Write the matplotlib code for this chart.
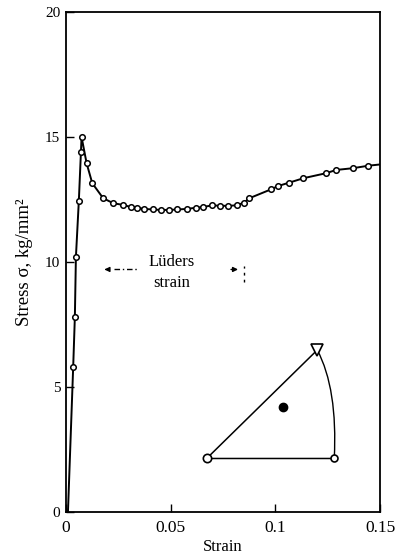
import numpy as np
import matplotlib
matplotlib.use('Agg')
import matplotlib.pyplot as plt
from matplotlib.path import Path
from matplotlib.patches import PathPatch

plt.rcParams['font.family'] = ['Liberation Serif', 'DejaVu Serif']

# stress-strain curve read point by point
strain = [0.0035, 0.0043, 0.0048, 0.0062, 0.0072, 0.0075, 0.0099, 0.0126, 0.0178,
          0.0226, 0.0274, 0.0309, 0.0341, 0.0374, 0.0414, 0.0453, 0.0494, 0.0532,
          0.0577, 0.0621, 0.0656, 0.0696, 0.0736, 0.0775, 0.0816, 0.0850, 0.0876,
          0.0978, 0.1014, 0.1065, 0.1134, 0.1242, 0.1290, 0.1370, 0.1444]
stress = [5.8, 7.8, 10.2, 12.45, 14.4, 15.0, 13.95, 13.15, 12.55,
          12.35, 12.28, 12.2, 12.17, 12.12, 12.1, 12.08, 12.08, 12.1,
          12.12, 12.17, 12.2, 12.26, 12.25, 12.24, 12.27, 12.37, 12.55,
          12.9, 13.04, 13.17, 13.35, 13.55, 13.68, 13.75, 13.85]
line_start = (0.001, 0.0)
line_end = (0.15, 13.9)

# Lueders band extent and label
luders_left = 0.0171
luders_right = 0.0835
luders_y = 9.7

# stereographic triangle (axes fraction): corner 001, 011, 111, arc midpoint, orientation
tri_001 = (0.448, 0.107)
tri_011 = (0.854, 0.107)
tri_111 = (0.800, 0.324)
arc_mid = (0.846, 0.231)
orient = (0.690, 0.209)

fig = plt.figure(figsize=(4.04, 5.55), dpi=100)
ax = fig.add_axes([0.163, 0.0775, 0.778, 0.901])

xs = [line_start[0]] + strain + [line_end[0]]
ys = [line_start[1]] + stress + [line_end[1]]
ax.plot(xs, ys, color='black', lw=1.4, zorder=2)
ax.plot(strain, stress, 'o', ms=4, mfc='white', mec='black', mew=1.1, zorder=3)

ax.set_xlim(0, 0.15)
ax.set_ylim(0, 20)
ax.set_xticks([0, 0.05, 0.1, 0.15])
ax.set_xticklabels(['0', '0.05', '0.1', '0.15'])
ax.set_yticks([0, 5, 10, 15, 20])
ax.tick_params(direction='in', length=6, width=1, labelsize=11, pad=4)
ax.tick_params(axis='x', labelsize=12.5, pad=6)
for s in ax.spines.values():
    s.set_linewidth(1.3)

ax.set_xlabel('Strain', fontsize=12, labelpad=2)
ax.set_ylabel('Stress σ, kg/mm²', fontsize=13.5, labelpad=9)

# Lueders strain marker
ax.text(0.0505, 10.0, 'Lüders', ha='center', va='center', fontsize=12)
ax.text(0.0505, 9.15, 'strain', ha='center', va='center', fontsize=12)
ax.annotate('', xy=(luders_left, luders_y), xytext=(luders_left + 0.004, luders_y),
            arrowprops=dict(arrowstyle='-|>', color='black', lw=1, mutation_scale=7))
ax.plot([luders_left + 0.006, 0.034], [luders_y, luders_y], color='black', lw=1, ls=(0, (4, 2, 1, 2)))
ax.annotate('', xy=(luders_right, luders_y), xytext=(luders_right - 0.006, luders_y),
            arrowprops=dict(arrowstyle='-|>', color='black', lw=1, mutation_scale=7))
ax.plot([0.0852, 0.0852], [9.2, 9.85], color='black', lw=1, ls=(0, (2, 3)))

# inset orientation triangle
tr = ax.transAxes
ax.plot([tri_111[0], tri_001[0], tri_011[0]], [tri_111[1], tri_001[1], tri_011[1]],
        color='black', lw=1.1, transform=tr)
ctrl = (2 * arc_mid[0] - 0.5 * (tri_111[0] + tri_011[0]),
        2 * arc_mid[1] - 0.5 * (tri_111[1] + tri_011[1]))
arc = Path([tri_111, ctrl, tri_011], [Path.MOVETO, Path.CURVE3, Path.CURVE3])
ax.add_patch(PathPatch(arc, fc='none', ec='black', lw=1.0, transform=tr))
ax.plot(*tri_001, 'o', ms=6, mfc='white', mec='black', mew=1.2, transform=tr)
ax.plot(*tri_011, 'o', ms=5, mfc='white', mec='black', mew=1.2, transform=tr)
ax.plot(*tri_111, 'v', ms=8, mfc='white', mec='black', mew=1.2, transform=tr)
ax.plot(*orient, 'o', ms=6, color='black', transform=tr)

fig.savefig('out.png', dpi=100)
